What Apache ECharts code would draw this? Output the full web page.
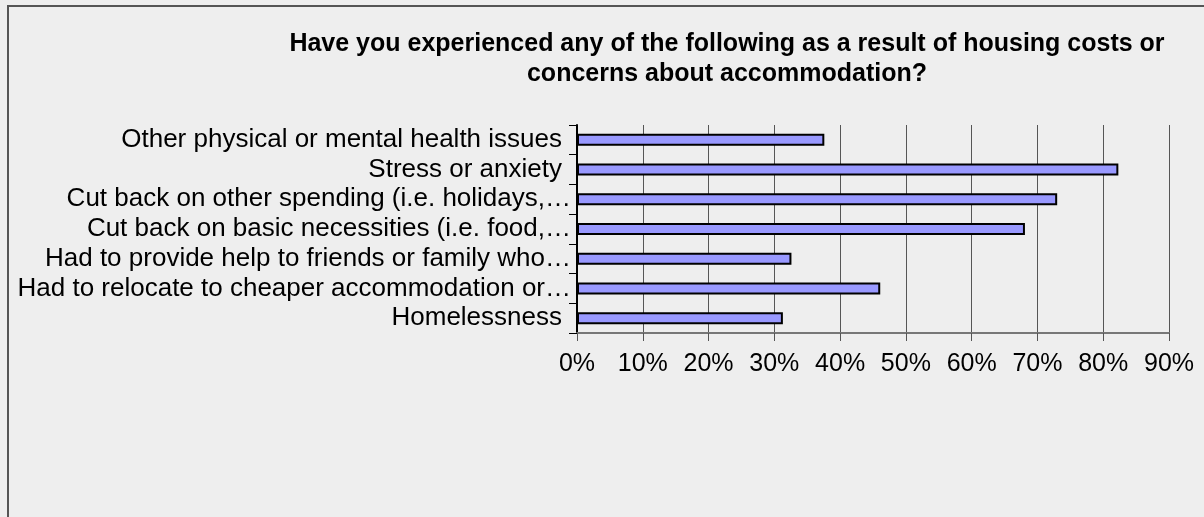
<!DOCTYPE html>
<html>
<head>
<meta charset="utf-8">
<script src="https://cdn.jsdelivr.net/npm/echarts@6/dist/echarts.min.js"></script>
<style>
html,body{margin:0;padding:0;background:#eeeeee;}
#c{width:1204px;height:517px;}
</style>
</head>
<body>
<div id="c"></div>
<script>
const categories = [
  "Other physical or mental health issues",
  "Stress or anxiety",
  "Cut back on other spending (i.e. holidays,…",
  "Cut back on basic necessities (i.e. food,…",
  "Had to provide help to friends or family who…",
  "Had to relocate to cheaper accommodation or…",
  "Homelessness"
];
const values = [37.6, 82.3, 73.0, 68.1, 32.6, 46.1, 31.3];
const tickLabels = ["0%","10%","20%","30%","40%","50%","60%","70%","80%","90%"];
const titleText = "Have you experienced any of the following as a result of housing costs or\nconcerns about accommodation?";

const labelFont = {fontFamily: 'Liberation Sans', fontSize: 26, color: '#000'};
const chart = echarts.init(document.getElementById('c'));
chart.setOption({
  backgroundColor: '#eeeeee',
  animation: false,
  graphic: [{
    type: 'rect', left: 7, top: 5, z: -1,
    shape: {width: 1300, height: 600},
    style: {fill: '#eeeeee', stroke: '#555555', lineWidth: 2}
  }],
  title: {
    text: titleText,
    left: 722, top: 24, textAlign: 'center',
    textStyle: {fontFamily: 'Liberation Sans', fontWeight: 'bold', fontSize: 25, color: '#000', lineHeight: 30}
  },
  grid: {left: 577, right: 35, top: 125, bottom: 184, containLabel: false},
  xAxis: {
    type: 'value', min: 0, max: 90, interval: 10,
    axisLine: {show: true, lineStyle: {color: '#777777', width: 2}},
    axisTick: {show: true, length: 8, lineStyle: {color: '#555555', width: 1}},
    splitLine: {show: true, lineStyle: {color: '#555555', width: 1}},
    axisLabel: {
      margin: 19, color: '#000', fontFamily: 'Liberation Sans', fontSize: 25,
      formatter: function (v) { return tickLabels[Math.round(v / 10)]; }
    }
  },
  yAxis: {
    type: 'category', data: categories, inverse: true,
    axisLine: {show: true, lineStyle: {color: '#000', width: 2}},
    axisTick: {show: true, length: 8, interval: 0, lineStyle: {color: '#000', width: 1}},
    axisLabel: {
      interval: 0, margin: 6, color: '#000', fontFamily: 'Liberation Sans', fontSize: 26,
      formatter: function (v) {
        return v.endsWith('…') ? '{t|' + v + '}' : '{n|' + v + '}';
      },
      rich: {
        t: Object.assign({}, labelFont),
        n: Object.assign({padding: [0, 9, 0, 0]}, labelFont)
      }
    }
  },
  series: [{
    type: 'bar', data: values, barWidth: 12,
    itemStyle: {color: '#9999ff', borderColor: '#000', borderWidth: 2}
  }]
});
</script>
</body>
</html>
